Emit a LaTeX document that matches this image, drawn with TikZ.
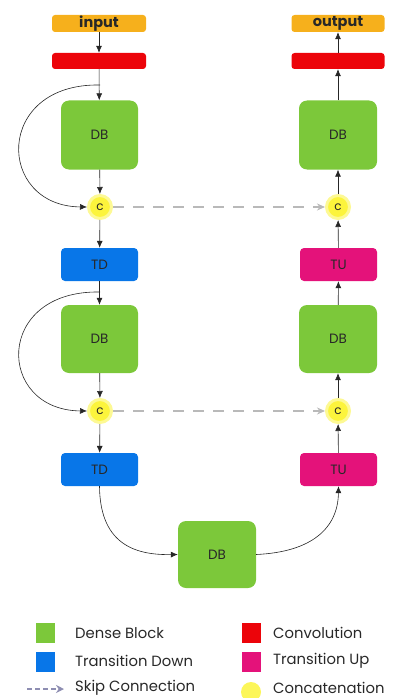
\documentclass[tikz,border=0pt]{standalone}
\usepackage{fontspec}
\setmainfont{Poppins}
\usetikzlibrary{arrows.meta}
\definecolor{inorange}{RGB}{246,176,28}
\definecolor{convred}{RGB}{236,4,10}
\definecolor{dbgreen}{RGB}{124,200,58}
\definecolor{tdblue}{RGB}{8,118,232}
\definecolor{tupink}{RGB}{228,18,122}
\definecolor{catyellow}{RGB}{252,244,60}
\definecolor{skipgray}{RGB}{185,185,185}
\definecolor{txt}{RGB}{40,40,40}
\tikzset{
  box/.style={draw=none, rounded corners=3pt, text=txt, inner sep=0pt, font=\fontsize{13.5}{14}\selectfont},
  io/.style={box, fill=inorange, minimum width=94pt, minimum height=17pt, font=\fontsize{14.5}{14}\selectfont\bfseries},
  conv/.style={box, fill=convred, minimum width=94pt, minimum height=16pt},
  dense/.style={box, fill=dbgreen, rounded corners=8pt, minimum width=77pt, minimum height=69pt},
  tdown/.style={box, fill=tdblue, rounded corners=4pt, minimum width=77pt, minimum height=33pt},
  tup/.style={box, fill=tupink, rounded corners=4pt, minimum width=77pt, minimum height=33pt},
  cat/.style={circle, fill=catyellow, draw=catyellow!55, line width=3pt, minimum size=23pt, inner sep=0pt, text=txt, font=\fontsize{12}{12}\selectfont},
  flow/.style={-{Latex[length=7pt,width=6pt]}, draw=black!85, line width=0.6pt},
  skip/.style={-{Stealth[length=8pt,width=7pt]}, draw=skipgray, line width=1.4pt, dash pattern=on 11pt off 9pt},
  legtxt/.style={anchor=west, text=txt, inner sep=0pt, font=\fontsize{14.8}{15}\selectfont},
  legsq/.style={minimum width=19pt, minimum height=20pt, inner sep=0pt}
}
\begin{document}
\begin{tikzpicture}[x=1pt,y=-1pt]
\useasboundingbox (0,0) rectangle (393,698);
% left column
\node[io] (in) at (99,23.5) {input};
\node[conv] (cl) at (99,61) {};
\node[dense] (db1) at (99.5,135) {DB};
\node[cat] (c1) at (100,207) {c};
\node[tdown] (td1) at (99.5,264.5) {TD};
\node[dense, minimum height=68pt] (db2) at (99.5,339) {DB};
\node[cat] (c2) at (100,411) {c};
\node[tdown] (td2) at (99.5,469.5) {TD};
% bottom
\node[dense, minimum width=78pt, minimum height=67pt] (db3) at (217,554.5) {DB};
% right column
\node[tup] (tu2) at (338.5,469.5) {TU};
\node[cat] (c4) at (338,411) {c};
\node[dense, minimum width=78pt, minimum height=68pt] (db4) at (338,339) {DB};
\node[tup] (tu1) at (338.5,264.5) {TU};
\node[cat] (c3) at (338,207) {c};
\node[dense, minimum width=78pt] (db5) at (338,135) {DB};
\node[conv, minimum width=93pt] (cr) at (338,61) {};
\node[io, minimum width=93pt] (out) at (338,23.5) {output};
% skip-branch start points
\coordinate (s1) at (100,85);
\coordinate (s2) at (100,292);
% left flows
\draw[flow] (in) -- (cl);
\draw[flow] (cl) -- (db1);
\draw[flow] (db1) -- (c1);
\draw[flow] (c1) -- (td1);
\draw[flow] (td1) -- (db2);
\draw[flow] (db2) -- (c2);
\draw[flow] (c2) -- (td2);
\draw[flow] (s1) .. controls (-6,83) and (-4,206) .. (c1.west);
\draw[flow] (s2) .. controls (-6,290) and (-4,410) .. (c2.west);
% bottom curves
\draw[flow] (td2.south) .. controls (100,548) and (140,555) .. (db3.west);
\draw[flow] (db3.east) .. controls (312,552) and (338,528) .. (tu2.south);
% right flows
\draw[flow] (tu2) -- (c4);
\draw[flow] (c4) -- (db4);
\draw[flow] (db4) -- (tu1);
\draw[flow] (tu1) -- (c3);
\draw[flow] (c3) -- (db5);
\draw[flow] (db5) -- (cr);
\draw[flow] (cr) -- (out);
% skip connections
\draw[skip] (c1.east) -- (c3.west);
\draw[skip] (c2.east) -- (c4.west);
% legend
\node[legsq, fill=dbgreen] (lg1) at (45.5,633) {};
\node[legtxt] (lt1) at (75,633) {Dense Block};
\node[legsq, fill=tdblue] (lg2) at (45.5,662) {};
\node[legtxt] (lt2) at (75,661) {Transition Down};
\coordinate (la1) at (27,689);
\coordinate (la2) at (64,689);
\draw[-{Stealth[length=8pt,width=8pt]}, draw=skipgray!80!blue!70!gray, line width=1.2pt, dash pattern=on 5pt off 3pt] (la1) -- (la2);
\node[legtxt] (lt3) at (75,687.5) {Skip Connection};
\node[legsq, fill=convred] (lg3) at (251,633) {};
\node[legtxt] (lt4) at (273,633) {Convolution};
\node[legsq, fill=tupink] (lg4) at (251,662) {};
\node[legtxt] (lt5) at (273,661) {Transition Up};
\node[circle, fill=catyellow!85, minimum size=20pt, inner sep=0pt] (lg5) at (251,692) {};
\node[legtxt] (lt6) at (273,687.5) {Concatenation};
\end{tikzpicture}
\end{document}
